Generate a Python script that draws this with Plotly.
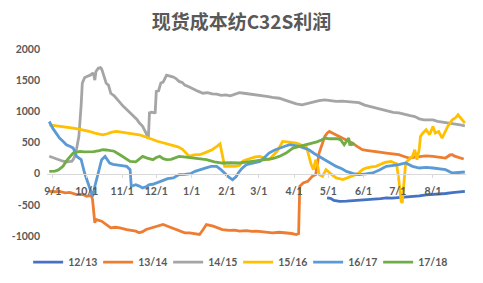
import plotly.graph_objects as go

# ---- data (x = days since 9/1) ----
month_ticks = [0, 30, 61, 91, 122, 153, 181, 212, 242, 273, 303, 334]
month_labels = ["9/1", "10/1", "11/1", "12/1", "1/1", "2/1", "3/1", "4/1", "5/1", "6/1", "7/1", "8/1"]
y_ticks = [-1000, -500, 0, 500, 1000, 1500, 2000]
y_labels = ["-1000", "-500", "0", "500", "1000", "1500", "2000"]

d_1213 = [241, 244, 247, 252, 258, 263, 270, 275, 282, 288, 293, 298, 304, 310, 316, 322, 328, 334, 339, 345, 351, 356, 362]
v_1213 = [-389, -395, -430, -443, -440, -436, -425, -416, -410, -400, -389, -392, -385, -375, -363, -355, -340, -336, -330, -318, -305, -295, -283]

d_1314 = [-3, 2, 6, 11, 15, 21, 26, 30, 34, 35, 37, 38, 43, 47, 51, 55, 59, 65, 70, 73, 76, 79, 82, 87, 91, 97, 101, 105, 108, 112, 116, 120, 125, 129, 132, 135, 141, 145, 149, 155, 160, 164, 170, 175, 179, 185, 190, 193, 199, 205, 210, 214, 216, 217, 220, 224, 228, 231, 232, 234, 237, 239, 241, 243, 246, 249, 253, 258, 263, 268, 272, 277, 281, 287, 293, 298, 304, 308, 313, 318, 322, 328, 334, 340, 345, 349, 351, 353, 357, 361]
v_1314 = [-283, -290, -283, -309, -300, -336, -330, -363, -350, -416, -789, -736, -763, -816, -869, -860, -869, -896, -910, -923, -949, -930, -896, -870, -843, -816, -843, -870, -896, -920, -949, -949, -960, -976, -900, -816, -843, -870, -896, -910, -905, -923, -915, -925, -923, -935, -945, -949, -940, -949, -960, -976, -960, -203, -149, -123, -43, -16, 117, 331, 491, 597, 650, 677, 650, 624, 580, 544, 491, 430, 384, 370, 357, 345, 331, 320, 304, 280, 251, 265, 277, 285, 277, 265, 251, 300, 304, 280, 260, 235]

d_1415 = [-3, 1, 5, 9, 13, 17, 19, 21, 23, 24, 25, 26, 28, 30, 33, 35, 36, 37, 38, 40, 42, 43, 45, 47, 49, 51, 54, 57, 59, 62, 65, 68, 71, 74, 76, 79, 82, 84, 85, 87, 89, 90, 91, 93, 95, 97, 100, 103, 106, 108, 111, 114, 116, 120, 124, 128, 132, 136, 140, 144, 148, 152, 156, 160, 164, 168, 173, 178, 183, 188, 193, 199, 204, 209, 214, 219, 224, 229, 234, 239, 244, 249, 254, 259, 264, 269, 274, 279, 284, 289, 294, 299, 304, 309, 314, 318, 322, 326, 330, 334, 338, 342, 346, 350, 354, 358, 362]
v_1415 = [280, 250, 230, 200, 190, 200, 260, 400, 600, 830, 1100, 1450, 1540, 1560, 1580, 1610, 1600, 1500, 1640, 1690, 1700, 1680, 1560, 1450, 1420, 1290, 1250, 1180, 1135, 1080, 1030, 975, 930, 870, 815, 760, 650, 560, 975, 985, 975, 980, 1320, 1330, 1455, 1470, 1580, 1570, 1550, 1530, 1480, 1460, 1420, 1390, 1350, 1320, 1290, 1300, 1280, 1275, 1255, 1265, 1250, 1270, 1300, 1290, 1280, 1270, 1260, 1240, 1225, 1210, 1180, 1150, 1120, 1104, 1130, 1150, 1170, 1184, 1170, 1160, 1165, 1157, 1160, 1140, 1100, 1077, 1050, 1020, 997, 985, 976, 950, 930, 917, 880, 864, 870, 864, 840, 830, 811, 800, 790, 784, 768]

d_1516 = [-3, 3, 9, 14, 18, 23, 27, 32, 37, 41, 44, 48, 52, 56, 59, 63, 68, 72, 76, 80, 84, 88, 92, 96, 100, 105, 110, 114, 116, 118, 120, 124, 129, 133, 137, 140, 143, 146, 147, 149, 151, 155, 160, 164, 167, 170, 174, 178, 182, 186, 190, 194, 197, 199, 202, 206, 210, 214, 217, 220, 223, 225, 227, 229, 230, 231, 233, 234, 237, 240, 244, 249, 255, 259, 263, 268, 272, 275, 280, 284, 288, 292, 297, 300, 302, 304, 306, 307, 308, 309, 310, 313, 316, 318, 319, 320, 322, 323, 325, 328, 331, 334, 336, 339, 342, 344, 347, 351, 354, 356, 358, 360, 362]
v_1516 = [784, 770, 760, 745, 730, 715, 704, 680, 650, 630, 624, 640, 665, 677, 670, 660, 651, 640, 624, 600, 570, 544, 520, 500, 480, 464, 430, 390, 357, 320, 277, 300, 304, 330, 360, 384, 420, 464, 480, 300, 117, 120, 117, 130, 200, 224, 250, 270, 277, 250, 224, 300, 357, 420, 517, 510, 500, 491, 470, 437, 420, 277, 150, 64, 180, 224, 100, -16, -43, 64, 0, -69, -96, -70, -43, 0, 64, 90, 110, 117, 150, 180, 197, 180, 160, -100, -443, -469, -200, 64, 171, 230, 277, 384, 300, 224, 400, 597, 650, 704, 624, 757, 651, 677, 571, 650, 757, 864, 900, 944, 900, 864, 810]

d_1617 = [-3, -2, 0, 3, 6, 9, 12, 15, 18, 21, 25, 28, 30, 32, 35, 36, 37, 40, 43, 46, 48, 50, 53, 56, 60, 65, 68, 69, 71, 73, 76, 79, 82, 85, 88, 91, 94, 97, 101, 106, 111, 116, 121, 125, 129, 134, 139, 144, 148, 152, 155, 158, 161, 163, 166, 170, 175, 182, 186, 190, 195, 199, 204, 208, 212, 217, 221, 225, 230, 234, 239, 244, 249, 254, 258, 264, 269, 275, 281, 287, 293, 298, 304, 310, 316, 322, 328, 334, 340, 345, 351, 356, 362]
v_1617 = [837, 800, 730, 650, 571, 520, 464, 440, 411, 277, 224, 11, -100, -203, -363, -300, -203, 11, 224, 277, 230, 171, 150, 144, 130, 117, 64, -203, -190, -176, -200, -229, -210, -176, -170, -149, -120, -96, -80, -69, -16, -10, 0, 37, 64, 90, 117, 117, 60, -16, -60, -96, -50, 11, 80, 144, 170, 197, 260, 331, 380, 411, 440, 464, 455, 437, 410, 384, 320, 277, 224, 171, 117, 80, 37, 0, -16, -5, 11, 60, 117, 130, 144, 171, 117, 91, 100, 91, 80, 64, 11, 20, 27]

d_1718 = [-3, 2, 5, 9, 13, 16, 18, 21, 24, 28, 32, 36, 41, 44, 47, 50, 54, 59, 63, 68, 73, 76, 79, 83, 88, 91, 94, 97, 100, 104, 108, 111, 117, 123, 129, 135, 142, 149, 156, 164, 170, 176, 182, 187, 193, 199, 205, 211, 215, 220, 224, 228, 232, 236, 239, 243, 247, 250, 253, 255, 256, 258, 260, 261, 262, 263, 265]
v_1718 = [37, 40, 60, 117, 224, 300, 331, 345, 357, 350, 350, 355, 370, 384, 380, 375, 360, 304, 250, 197, 190, 230, 277, 250, 224, 260, 277, 240, 224, 230, 260, 277, 265, 251, 235, 224, 190, 171, 175, 171, 185, 197, 210, 224, 240, 277, 330, 411, 430, 448, 470, 491, 510, 540, 571, 560, 555, 560, 540, 500, 464, 520, 571, 450, 500, 470, 491]

series = [
    ("12/13", d_1213, v_1213, "#4472C4"),
    ("13/14", d_1314, v_1314, "#ED7D31"),
    ("14/15", d_1415, v_1415, "#A5A5A5"),
    ("15/16", d_1516, v_1516, "#FFC000"),
    ("16/17", d_1617, v_1617, "#5B9BD5"),
    ("17/18", d_1718, v_1718, "#70AD47"),
]

TXT = "#595959"
FONT = "Lato, 'Noto Sans', sans-serif"

fig = go.Figure()
for name, d, v, c in series:
    fig.add_trace(go.Scatter(x=d, y=v, mode="lines", name=name,
                             line=dict(color=c, width=2.8)))

fig.update_layout(
    width=483, height=283,
    margin=dict(l=47, r=17, t=49, b=47, autoexpand=False),
    paper_bgcolor="white", plot_bgcolor="white",
    title=dict(text="现货成本纺C32S利润", x=0.5, xanchor="center",
               yref="container", y=1 - 22 / 283, yanchor="middle",
               font=dict(family="'Noto Sans CJK SC'", size=19, color=TXT, weight="bold")),
    xaxis=dict(range=[-5, 363], tickvals=month_ticks, ticktext=month_labels,
               anchor="free", position=1 / 3, showline=True, linecolor="#D9D9D9",
               linewidth=1, ticks="outside", ticklen=3, tickcolor="#D9D9D9",
               ticklabelstandoff=5,
               showgrid=False, zeroline=False,
               tickfont=dict(family=FONT, size=10.5, color=TXT, weight="bold")),
    yaxis=dict(range=[-1000, 2000], tickvals=y_ticks, ticktext=y_labels,
               showgrid=False, zeroline=False, showline=False, ticks="",
               ticklabelstandoff=6,
               tickfont=dict(family=FONT, size=10.5, color=TXT, weight="bold")),
    legend=dict(orientation="h", x=-0.045, xanchor="left",
                y=-0.14, yanchor="middle",
                entrywidth=25, entrywidthmode="pixels",
                font=dict(family=FONT, size=10.5, color=TXT, weight="bold"),
                bgcolor="rgba(0,0,0,0)"),
    showlegend=True,
)

fig.write_html("out.html")
